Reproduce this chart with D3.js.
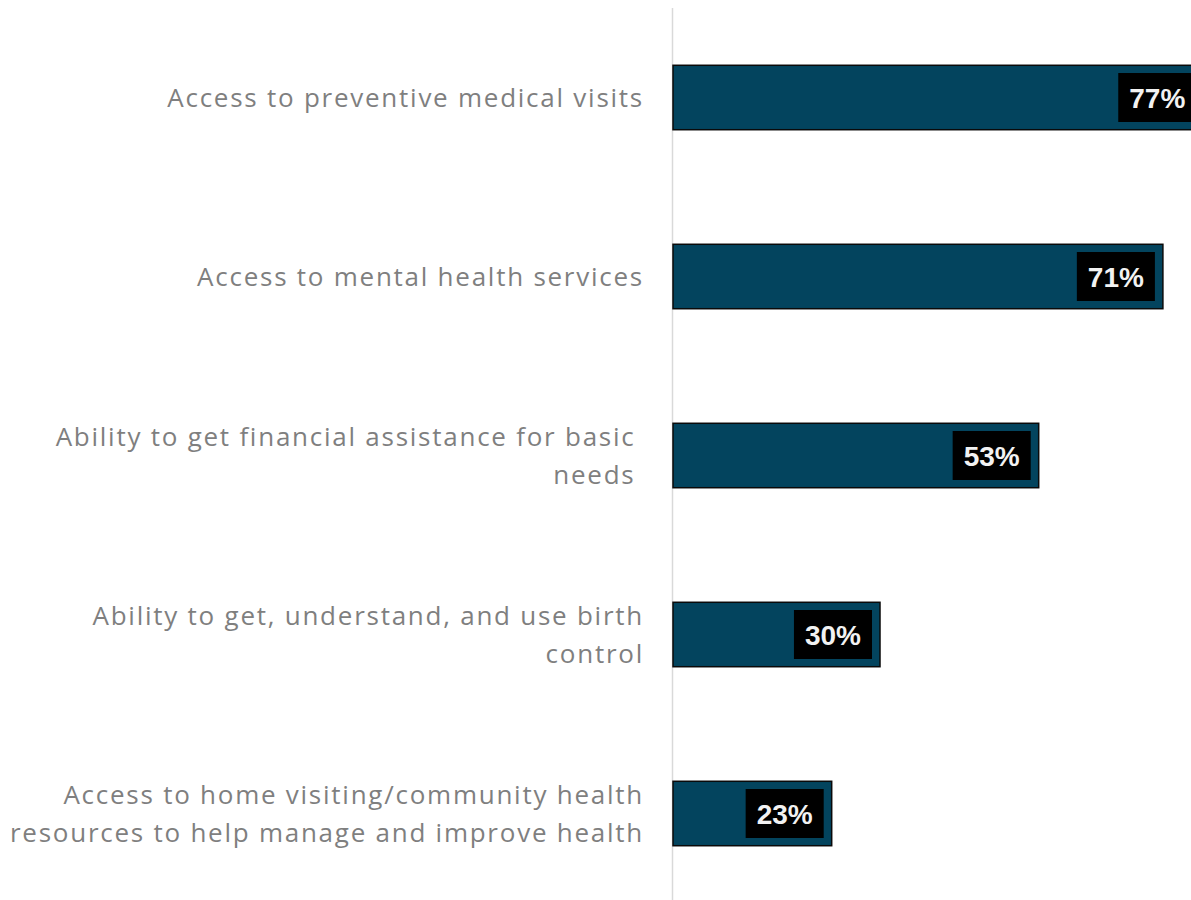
<!DOCTYPE html>
<html>
<head>
<meta charset="utf-8">
<script src="https://cdn.jsdelivr.net/npm/d3@7"></script>
<style>
  html, body { margin: 0; padding: 0; background: #ffffff; }
  svg { display: block; }
</style>
</head>
<body>
<svg id="chart" width="1191" height="900"></svg>
<script>
// Survey items, each label split into its display lines
const categories = [
  "Access to preventive medical visits",
  "Access to mental health services",
  "Ability to get financial assistance for basic needs",
  "Ability to get, understand, and use birth control",
  "Access to home visiting/community health resources to help manage and improve health"
];
const labelLines = [
  ["Access to preventive medical visits"],
  ["Access to mental health services"],
  ["Ability to get financial assistance for basic ", "needs "],
  ["Ability to get, understand, and use birth", "control"],
  ["Access to home visiting/community health", "resources to help manage and improve health"]
];
const values = [77, 71, 53, 30, 23];

const svg = d3.select("#chart");
const axisX = 673;

const x = d3.scaleLinear().domain([0, 80]).range([axisX, axisX + 552]);
const y = d3.scaleBand().domain(categories).range([8, 903])
  .paddingInner(0.64).paddingOuter(0.32);

// Category axis line
svg.append("line")
  .attr("x1", axisX - 0.5).attr("x2", axisX - 0.5)
  .attr("y1", 8).attr("y2", 900)
  .attr("stroke", "#d9d9d9").attr("stroke-width", 1.5);

// Bars
svg.append("g").selectAll("rect")
  .data(categories)
  .join("rect")
  .attr("x", x(0))
  .attr("y", d => y(d))
  .attr("width", (d, i) => x(values[i]) - x(0))
  .attr("height", y.bandwidth())
  .attr("fill", "#03445e")
  .attr("stroke", "#0a0a0a")
  .attr("stroke-width", 1.5);

// Category labels
const lineH = 38;
const labelX = 644;
const labels = svg.append("g")
  .attr("font-family", "'Open Sans', 'Noto Sans', sans-serif")
  .attr("font-size", 26)
  .attr("letter-spacing", 1.75)
  .attr("fill", "#7f7f7f")
  .attr("text-anchor", "end");
categories.forEach((c, i) => {
  const lines = labelLines[i];
  const cy = y(c) + y.bandwidth() / 2;
  const t = labels.append("text")
    .attr("x", labelX)
    .attr("y", cy - (lines.length - 1) * lineH / 2)
    .style("white-space", "pre");
  lines.forEach((ln, j) => {
    t.append("tspan")
      .attr("x", labelX)
      .attr("dy", j === 0 ? "0.35em" : lineH)
      .text(ln);
  });
});

// Value tags
const tags = svg.append("g");
categories.forEach((c, i) => {
  const g = tags.append("g");
  const cy = y(c) + y.bandwidth() / 2;
  const txt = g.append("text")
    .attr("font-family", "'Liberation Sans', Arial, sans-serif")
    .attr("font-weight", "bold")
    .attr("font-size", 28)
    .attr("fill", "#f2f2f2")
    .attr("text-anchor", "middle")
    .attr("dy", "0.36em")
    .text(values[i] + "%");
  const tw = txt.node().getComputedTextLength();
  const bw = tw + 22, bh = 49;
  const right = x(values[i]) - 8;
  const cx = right - bw / 2;
  g.insert("rect", "text")
    .attr("x", cx - bw / 2)
    .attr("y", cy - bh / 2)
    .attr("width", bw)
    .attr("height", bh)
    .attr("fill", "#000000");
  txt.attr("x", cx).attr("y", cy);
});
</script>
</body>
</html>
